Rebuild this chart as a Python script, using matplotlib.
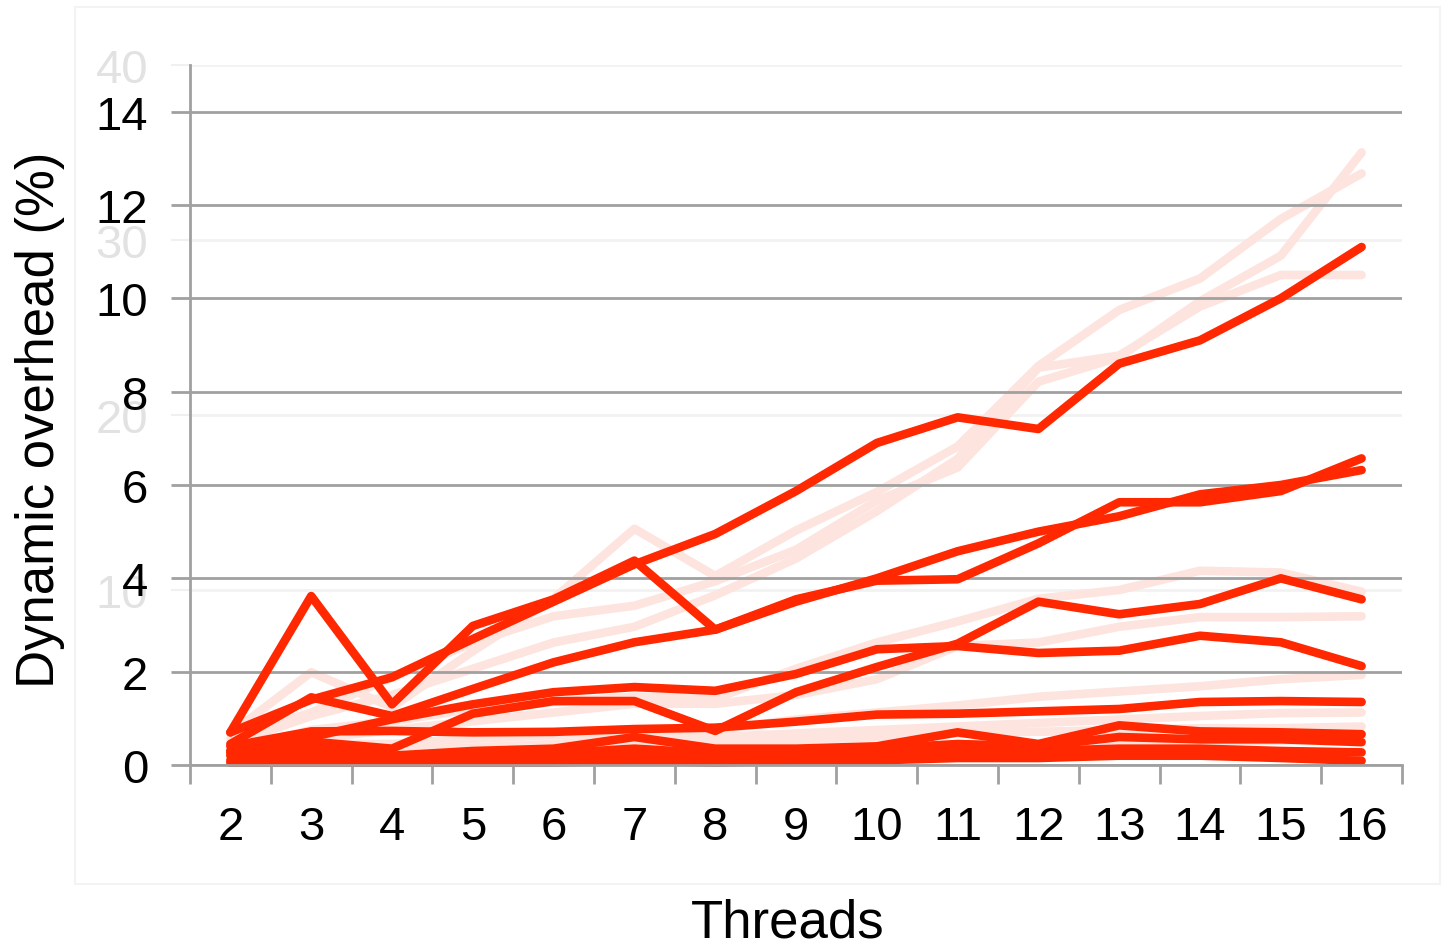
import matplotlib
matplotlib.use("Agg")
import matplotlib.pyplot as plt
from matplotlib.patches import Rectangle
import numpy as np

plt.rcParams['font.family'] = ['Liberation Sans', 'DejaVu Sans']

threads = [str(t) for t in range(2, 17)]

# foreground chart, overhead in % (0-14 scale)
red_top = [0.7, 1.4, 1.88, 2.7, 3.5, 4.3, 4.95, 5.87, 6.9, 7.45, 7.2, 8.6, 9.1, 10.0, 11.1]
red_spike = [0.7, 3.62, 1.3, 2.98, 3.55, 4.38, 2.9, 3.5, 4.0, 4.58, 5.0, 5.33, 5.8, 6.0, 6.32]
red_b = [0.45, 1.45, 1.05, 1.63, 2.2, 2.63, 2.9, 3.55, 3.95, 3.98, 4.75, 5.63, 5.63, 5.87, 6.57]
red_c = [0.3, 0.5, 0.35, 1.1, 1.37, 1.37, 0.73, 1.56, 2.1, 2.6, 3.5, 3.23, 3.45, 4.0, 3.55]
red_d = [0.3, 0.6, 0.98, 1.3, 1.56, 1.67, 1.59, 1.95, 2.48, 2.55, 2.4, 2.45, 2.77, 2.63, 2.12]
red_e = [0.4, 0.72, 0.73, 0.7, 0.71, 0.77, 0.8, 0.93, 1.08, 1.1, 1.15, 1.2, 1.35, 1.37, 1.35]
red_f = [0.25, 0.38, 0.2, 0.3, 0.35, 0.6, 0.35, 0.35, 0.4, 0.7, 0.45, 0.85, 0.72, 0.7, 0.66]
red_g = [0.2, 0.25, 0.1, 0.2, 0.25, 0.35, 0.25, 0.3, 0.35, 0.45, 0.4, 0.6, 0.55, 0.55, 0.49]
red_h = [0.1, 0.15, 0.1, 0.15, 0.15, 0.2, 0.15, 0.2, 0.25, 0.3, 0.3, 0.35, 0.35, 0.3, 0.27]
red_i = [0.05, 0.05, 0.05, 0.05, 0.05, 0.1, 0.05, 0.1, 0.1, 0.15, 0.15, 0.2, 0.2, 0.15, 0.09]

# faded chart behind (0-40 scale)
pink_a = [1.8, 5.3, 3.3, 6.5, 9.5, 13.5, 10.8, 13.4, 15.6, 18.2, 22.8, 26.0, 27.8, 31.2, 33.8]
pink_b = [1.5, 3.0, 5.0, 7.0, 8.5, 9.1, 10.5, 12.3, 15.1, 17.0, 21.9, 23.3, 26.5, 29.1, 35.0]
pink_c = [1.2, 2.8, 4.0, 5.5, 7.0, 7.9, 9.7, 11.8, 14.5, 17.5, 22.7, 23.4, 26.2, 28.0, 28.0]
pink_d = [0.8, 2.0, 2.5, 3.2, 3.6, 3.9, 3.8, 5.5, 7.0, 8.2, 9.5, 10.0, 11.1, 11.0, 9.9]
pink_e = [0.6, 1.5, 2.0, 2.5, 3.0, 3.5, 3.5, 4.0, 4.9, 6.8, 7.0, 7.9, 8.45, 8.45, 8.5]
pink_f = [0.5, 1.2, 1.2, 1.5, 1.7, 1.9, 2.0, 2.6, 3.0, 3.4, 3.9, 4.2, 4.5, 4.9, 5.15]
pink_g = [0.4, 0.9, 0.8, 1.0, 1.2, 1.5, 1.6, 1.8, 2.0, 2.2, 2.4, 2.6, 2.8, 2.97, 3.0]
pink_h = [0.3, 0.6, 0.6, 0.8, 0.9, 1.0, 1.2, 1.4, 1.6, 1.8, 1.9, 2.0, 2.1, 2.1, 2.2]
pink_i = [0.2, 0.4, 0.4, 0.5, 0.5, 0.6, 0.7, 0.8, 0.9, 1.0, 1.1, 1.2, 1.3, 1.4, 1.5]

red_series = [red_i, red_h, red_g, red_f, red_e, red_d, red_c, red_b, red_spike, red_top]
pink_series = [pink_a, pink_b, pink_c, pink_d, pink_e, pink_f, pink_g, pink_h, pink_i]

W, H = 1447, 945
fig = plt.figure(figsize=(W / 100, H / 100), dpi=100)

# faint slide frame
fig.patches.append(Rectangle((75 / W, 1 - 885 / H), (1440 - 75) / W, (885 - 8) / H,
                             transform=fig.transFigure, fill=False,
                             edgecolor='#f3f3f3', linewidth=1.5))

pos = [190 / W, 1 - 766 / H, (1402 - 190) / W, (766 - 66) / H]
x = np.arange(len(threads))

# background (faded) axes
axb = fig.add_axes(pos)
axb.set_xlim(-0.5, len(threads) - 0.5)
axb.set_ylim(0, 40)
axb.set_yticks([10, 20, 30, 40])
axb.tick_params(axis='y', length=14, width=1.5, color='#f0f0f0', labelsize=34,
                labelcolor='#e2e2e2', pad=16)
axb.set_xticks([])
axb.grid(axis='y', color='#f2f2f2', linewidth=2)
axb.set_axisbelow(True)
for s in axb.spines.values():
    s.set_visible(False)
for ys in pink_series:
    axb.plot(x, ys, color='#fde4df', linewidth=6.2, solid_capstyle='round',
             solid_joinstyle='round')

# foreground axes
ax = fig.add_axes(pos)
ax.patch.set_visible(False)
ax.set_xlim(-0.5, len(threads) - 0.5)
ax.set_ylim(0, 15)
ax.set_yticks(range(0, 15, 2))
ax.set_xticks(x)
ax.set_xticklabels(threads)
ax.set_xticks(np.arange(-0.5, len(threads)), minor=True)
ax.tick_params(axis='x', which='major', length=0, labelsize=34, pad=29)
ax.tick_params(axis='x', which='minor', length=14, width=2, color='#a0a0a0')
ax.tick_params(axis='y', length=14, width=2, color='#a0a0a0', labelsize=34, pad=16)
ax.grid(axis='y', color='#a0a0a0', linewidth=2)
ax.set_axisbelow(True)
for side in ['top', 'right']:
    ax.spines[side].set_visible(False)
for side in ['left', 'bottom']:
    ax.spines[side].set_color('#a0a0a0')
    ax.spines[side].set_linewidth(2)
for ys in red_series:
    ax.plot(x, ys, color='#ff2800', linewidth=6.2, solid_capstyle='round',
            solid_joinstyle='round', clip_on=False)

fig.text(40 / W, 1 - 420 / H, 'Dynamic overhead (%)', rotation=90,
         ha='center', va='center', fontsize=38)
fig.text(788 / W, 1 - 938 / H, 'Threads', ha='center', va='baseline', fontsize=38)

fig.savefig('out.png', dpi=100)
